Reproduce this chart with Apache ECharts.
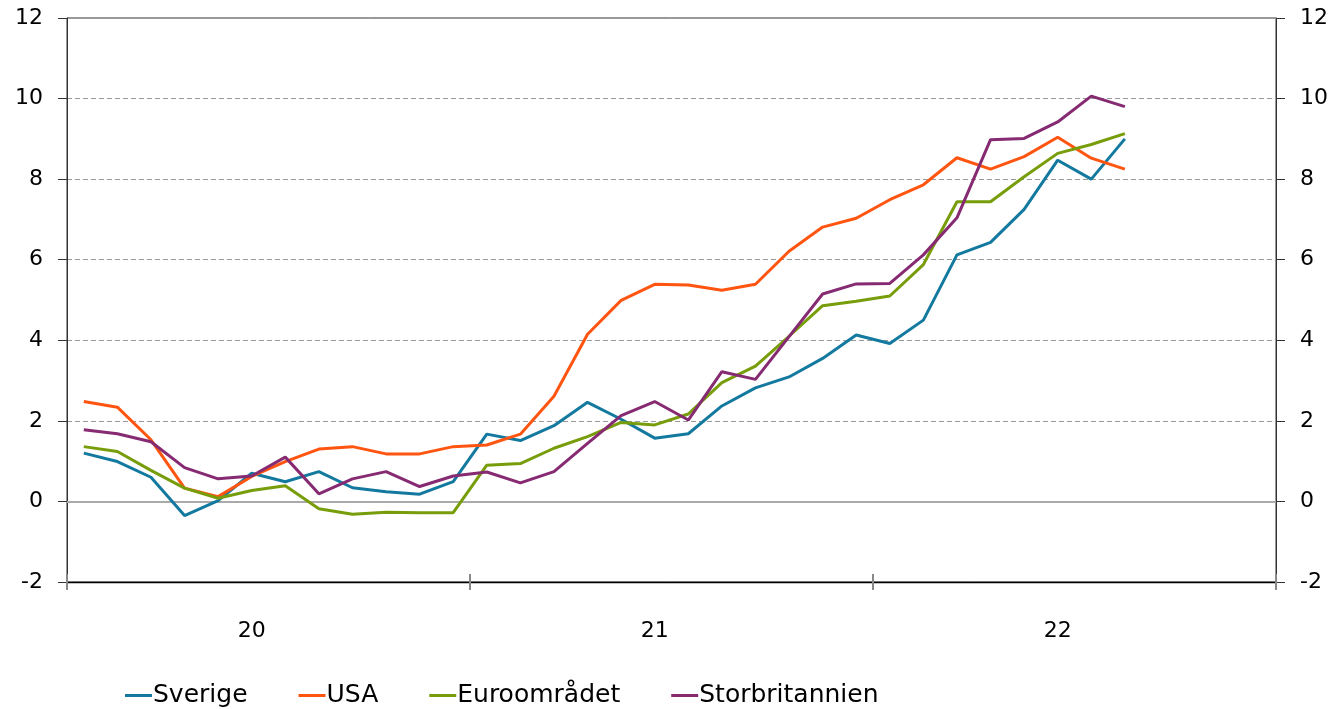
<!DOCTYPE html>
<html>
<head>
<meta charset="utf-8">
<script src="https://cdn.jsdelivr.net/npm/echarts@6/dist/echarts.min.js"></script>
<style>
html,body{margin:0;padding:0;background:#fff;}
#chart{width:1334px;height:709px;}
</style>
</head>
<body>
<div id="chart"></div>
<script>
var years = ['20', '21', '22'];
var monthsPerYear = 12;
var yTicks = { min: -2, max: 12, interval: 2 };

var seriesNames = ['Sverige', 'USA', 'Euroområdet', 'Storbritannien'];
var sverige = [1.20, 0.99, 0.60, -0.35, 0.02, 0.70, 0.49, 0.74, 0.34, 0.24, 0.18, 0.49,
  1.67, 1.51, 1.88, 2.46, 2.04, 1.57, 1.68, 2.37, 2.82, 3.09, 3.55, 4.13,
  3.92, 4.50, 6.12, 6.43, 7.25, 8.47, 8.00, 9.00];
var usa = [2.48, 2.34, 1.53, 0.33, 0.12, 0.62, 0.99, 1.30, 1.36, 1.18, 1.18, 1.36,
  1.40, 1.67, 2.61, 4.15, 4.99, 5.39, 5.37, 5.24, 5.39, 6.21, 6.81, 7.03,
  7.49, 7.86, 8.53, 8.25, 8.56, 9.04, 8.52, 8.25];
var euro = [1.36, 1.24, 0.77, 0.33, 0.08, 0.27, 0.39, -0.18, -0.32, -0.27, -0.28, -0.28,
  0.90, 0.94, 1.32, 1.61, 1.96, 1.90, 2.17, 2.95, 3.36, 4.10, 4.86, 4.97,
  5.10, 5.88, 7.44, 7.44, 8.06, 8.64, 8.86, 9.13];
var uk = [1.78, 1.68, 1.48, 0.84, 0.56, 0.63, 1.10, 0.19, 0.56, 0.74, 0.37, 0.63,
  0.73, 0.46, 0.74, 1.44, 2.13, 2.48, 2.02, 3.22, 3.03, 4.09, 5.15, 5.40,
  5.41, 6.12, 7.04, 8.98, 9.01, 9.42, 10.06, 9.80];

var colors = ['#13799f', '#ff5511', '#789d0a', '#862a72'];

var categories = [];
years.forEach(function (y) {
  for (var m = 1; m <= monthsPerYear; m++) {
    categories.push(y + '-' + (m < 10 ? '0' + m : m));
  }
});

var FONT = 'DejaVu Sans';
var chart = echarts.init(document.getElementById('chart'), null, { renderer: 'canvas' });

var values = [sverige, usa, euro, uk];
var series = values.map(function (d, i) {
  var s = {
    name: seriesNames[i],
    type: 'line',
    data: d,
    symbol: 'none',
    lineStyle: { width: 3, color: colors[i] },
    itemStyle: { color: colors[i] },
    z: 3
  };
  if (i === 0) {
    s.markLine = {
      silent: true,
      symbol: 'none',
      label: { show: false },
      lineStyle: { color: '#aaaaaa', type: 'solid', width: 2 },
      data: [{ yAxis: 0 }],
      z: 1
    };
  }
  return s;
});

function makeYAxis(pos, withSplit, margin) {
  return {
    type: 'value',
    position: pos,
    min: yTicks.min,
    max: yTicks.max,
    interval: yTicks.interval,
    axisLine: { show: true, onZero: false, lineStyle: { color: '#333', width: 1 } },
    axisTick: { show: true, inside: false, length: 9, lineStyle: { color: '#333', width: 1 } },
    axisLabel: { show: true, inside: false, color: '#000', fontSize: 22, fontFamily: FONT, margin: margin },
    splitLine: withSplit
      ? { show: true, lineStyle: { color: '#999', type: [5, 3], width: 1 } }
      : { show: false }
  };
}

chart.setOption({
  animation: false,
  backgroundColor: '#fff',
  color: colors,
  grid: {
    left: 67, right: 58, top: 18, bottom: 127,
    outerBoundsMode: 'none',
    show: true, borderColor: '#333', borderWidth: 1, backgroundColor: 'transparent'
  },
  legend: {
    data: seriesNames,
    left: 125,
    top: 683,
    padding: 0,
    icon: 'rect',
    itemWidth: 27,
    itemHeight: 3,
    itemGap: 51,
    textStyle: { color: '#000', fontSize: 25, fontFamily: FONT, padding: [0, 0, 0, -4] }
  },
  xAxis: [{
    type: 'category',
    data: categories,
    boundaryGap: true,
    position: 'bottom',
    axisLine: { show: true, onZero: false, lineStyle: { color: '#000', width: 1.3 } },
    axisTick: {
      show: true, inside: false, length: 8,
      interval: function (idx) { return idx % monthsPerYear === 0; },
      lineStyle: { color: '#888', width: 2 }
    },
    axisLabel: {
      show: true, color: '#000', fontSize: 22, fontFamily: FONT, margin: 38,
      interval: function (idx) { return idx % monthsPerYear === 5; },
      formatter: function (v) { return v.split('-')[0]; }
    },
    splitLine: { show: false }
  }, {
    type: 'category',
    data: categories,
    boundaryGap: true,
    position: 'bottom',
    axisLine: { show: false, onZero: false },
    axisTick: {
      show: true, inside: true, length: 8,
      interval: function (idx) { return idx % monthsPerYear === 0; },
      lineStyle: { color: '#888', width: 2 }
    },
    axisLabel: { show: false },
    splitLine: { show: false }
  }],
  yAxis: [makeYAxis('left', true, 24), makeYAxis('right', false, 24)],
  series: series
});
</script>
</body>
</html>
